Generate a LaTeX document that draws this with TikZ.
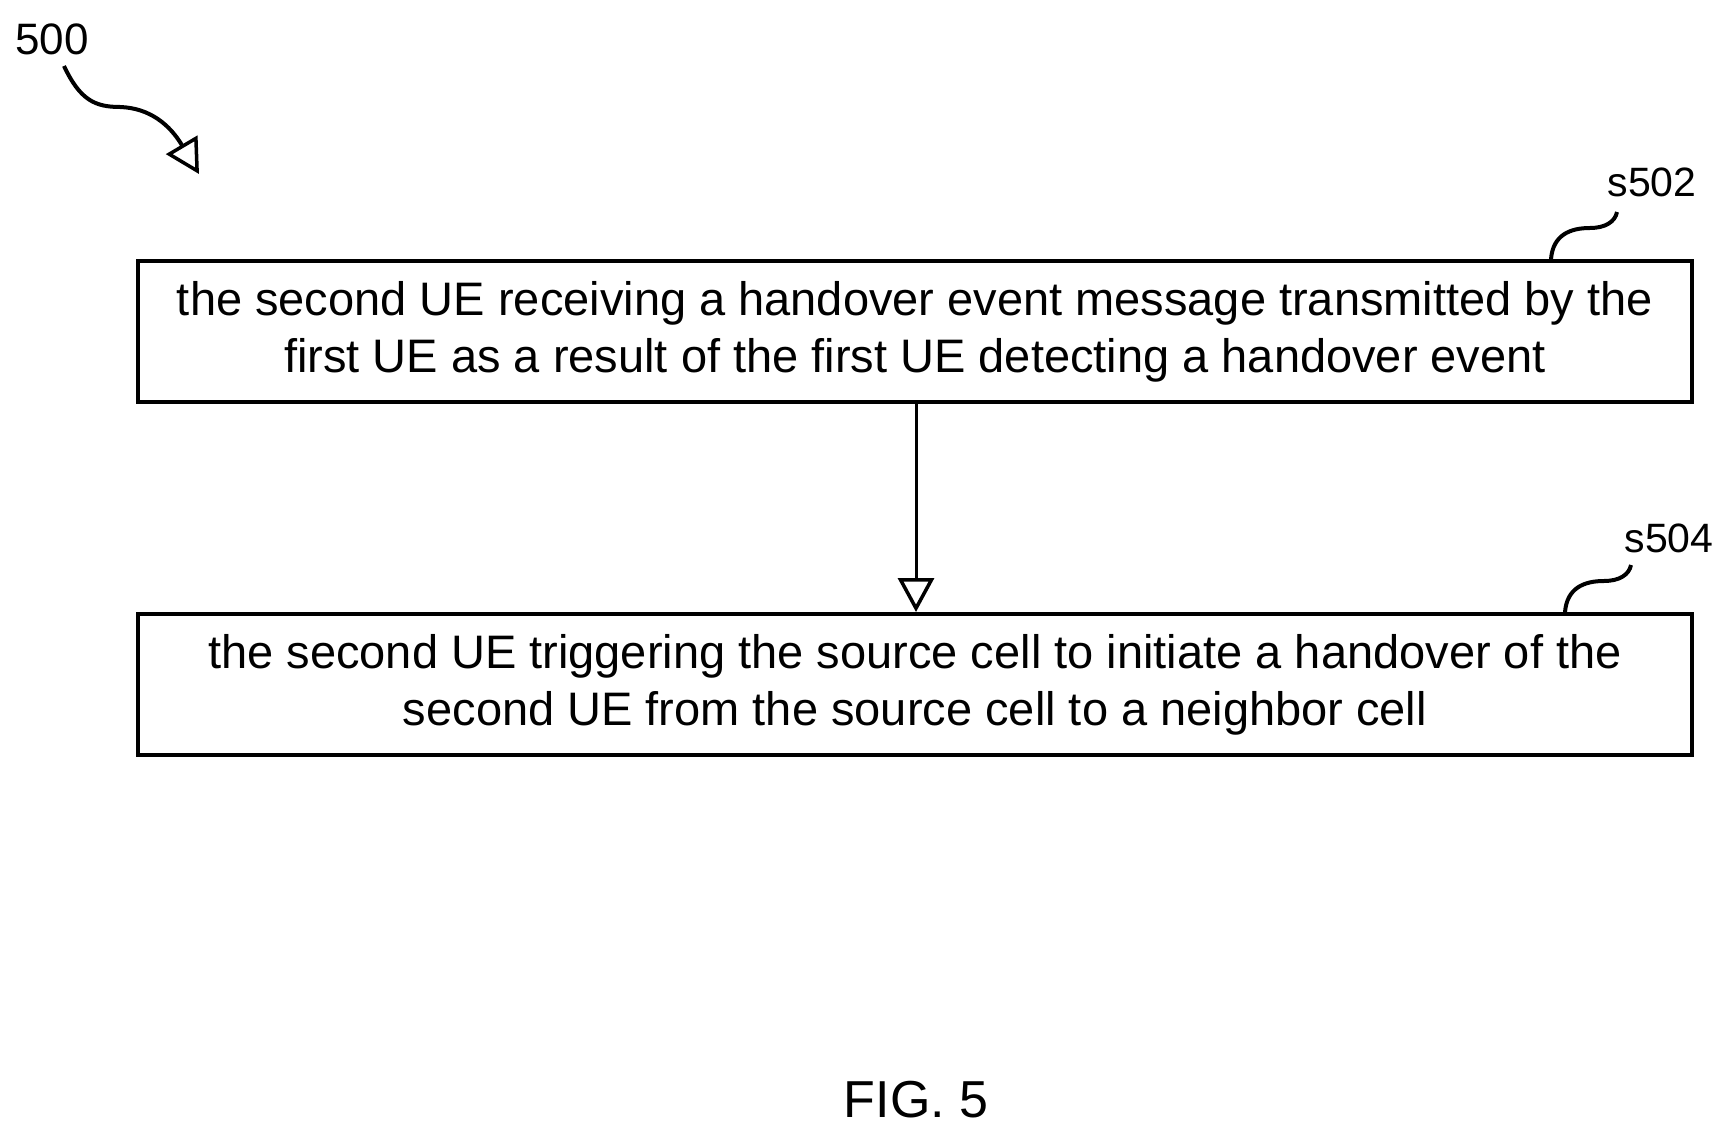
\documentclass[tikz,border=0pt]{standalone}
\usepackage{fontspec}
\setmainfont{Liberation Sans}
\usetikzlibrary{arrows.meta}
\begin{document}
\begin{tikzpicture}[x=1pt,y=-1pt,
  box/.style={draw,line width=4pt,minimum width=1554pt,minimum height=141pt,align=center,font=\fontsize{47}{57}\selectfont},
  lab/.style={font=\fontsize{41}{44}\selectfont},
  sq/.style={line width=4pt},
  tip/.style={-{Triangle[open,length=34pt,width=36pt,line width=3.5pt]}}]
\useasboundingbox (0,0) rectangle (1729,1139);
\node[box] (b1) at (915,331.5) {the second UE receiving a handover event message transmitted by the\\first UE as a result of the first UE detecting a handover event};
\node[box] (b2) at (915,684.5) {the second UE triggering the source cell to initiate a handover of the\\second UE from the source cell to a neighbor cell};
\draw[line width=3pt,tip] (b1.south -| 916,0) -- (b2.north -| 916,0);
\node[lab,font=\fontsize{44}{48}\selectfont] (l500) at (52,39) {500};
\node[lab] (l502) at (1652,182) {s502};
\node[lab] (l504) at (1669,538) {s504};
\coordinate (e500) at (199,174);
\draw[sq,tip] (64,66) .. controls (80,100) and (95,107) .. (120,107) .. controls (150,108) and (170,125) .. (e500);
\draw[sq] (1551,259) .. controls (1553,235) and (1570,228) .. (1590,228) .. controls (1605,228) and (1615,222) .. (1617,212);
\draw[sq] (1565,612) .. controls (1567,588) and (1584,581) .. (1604,581) .. controls (1619,581) and (1629,575) .. (1631,565);
\node[font=\fontsize{52}{56}\selectfont] (fig) at (916,1100) {FIG. 5};
\end{tikzpicture}
\end{document}
